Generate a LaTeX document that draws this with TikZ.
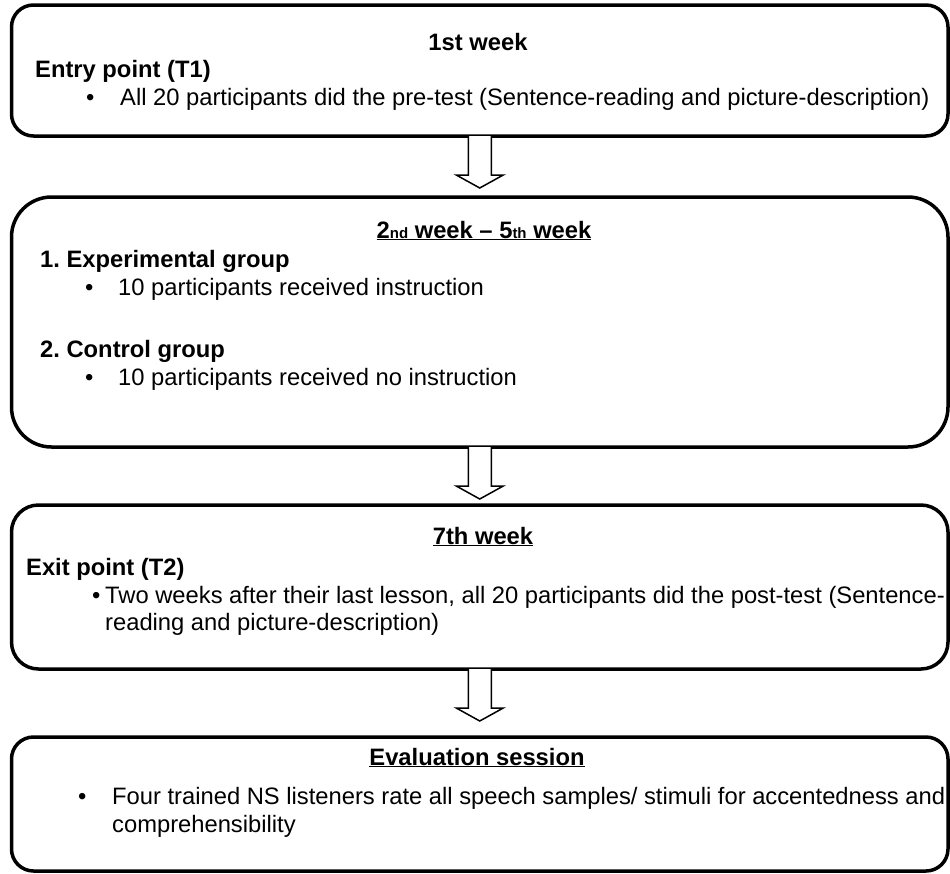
\documentclass[tikz,border=0pt]{standalone}
\usepackage{fontspec}
\setmainfont{Liberation Sans}
\frenchspacing

\begin{document}
\begin{tikzpicture}[x=1pt, y=-1pt,
  stage/.style={draw, line width=3.5pt, inner sep=0pt, outer sep=0pt, minimum width=936.5pt},
  body/.style={anchor=base west, inner sep=0pt, font=\fontsize{23.75}{27.5}\selectfont},
  grouphead/.style={body, font=\fontsize{23.75}{27.5}\selectfont\bfseries},
  weekhead/.style={grouphead, anchor=base},
  bullet/.style={body},
  hollow/.style={draw, line width=1.5pt, line join=miter, fill=white}]
\useasboundingbox (0,0) rectangle (950,873);
%Boxes:
\node (week1) [stage, rounded corners=22pt, minimum height=131pt] at (479.75,70.5) {};
\node (week2) [stage, rounded corners=40pt, minimum height=250pt] at (479.75,322) {};
\node (week7) [stage, rounded corners=27pt, minimum height=164pt] at (479.75,587) {};
\node (eval) [stage, rounded corners=22pt, minimum height=134pt] at (479.75,804) {};
%1st week:
\node (h1) [weekhead] at (478,50) {1st week};
\node (entry) [grouphead] at (35,77) {Entry point (T1)};
\node (b1) [bullet] at (86,105) {\textbullet};
\node (pre) [body] at (120,105) {All 20 participants did the pre-test (Sentence-reading and picture-description)};
%2nd to 5th week:
\node (h2) [weekhead] at (484,238) {\underline{2{\fontsize{15}{15}\selectfont nd} week -- 5{\fontsize{15}{15}\selectfont th} week}};
\node (exp) [grouphead] at (40,267) {1. Experimental group};
\node (b2) [bullet] at (85,295) {\textbullet};
\node (instr) [body] at (118,295) {10 participants received instruction};
\node (ctrl) [grouphead] at (40,357) {2. Control group};
\node (b3) [bullet] at (85,385) {\textbullet};
\node (noinstr) [body] at (118,385) {10 participants received no instruction};
%7th week:
\node (h3) [weekhead] at (483,544) {\underline{7th week}};
\node (exit) [grouphead] at (26,575) {Exit point (T2)};
\node (b4) [bullet] at (92,603) {\textbullet};
\node (post1) [body] at (105,603) {Two weeks after their last lesson, all 20 participants did the post-test (Sentence-};
\node (post2) [body] at (105,630) {reading and picture-description)};
%Evaluation:
\node (h4) [weekhead] at (477,765) {\underline{Evaluation session}};
\node (b5) [bullet] at (78,804) {\textbullet};
\node (rate1) [body] at (112,804) {Four trained NS listeners rate all speech samples/ stimuli for accentedness and};
\node (rate2) [body] at (112,832) {comprehensibility};
%Arrows:
\foreach \from in {week1, week2, week7}
  \draw [hollow] (\from.south) ++(-11.5,0) -- ++(0,39) -- ++(-12,0) -- ++(23.5,13) -- ++(23.5,-13) -- ++(-12,0) -- ++(0,-39);
\end{tikzpicture}
\end{document}
